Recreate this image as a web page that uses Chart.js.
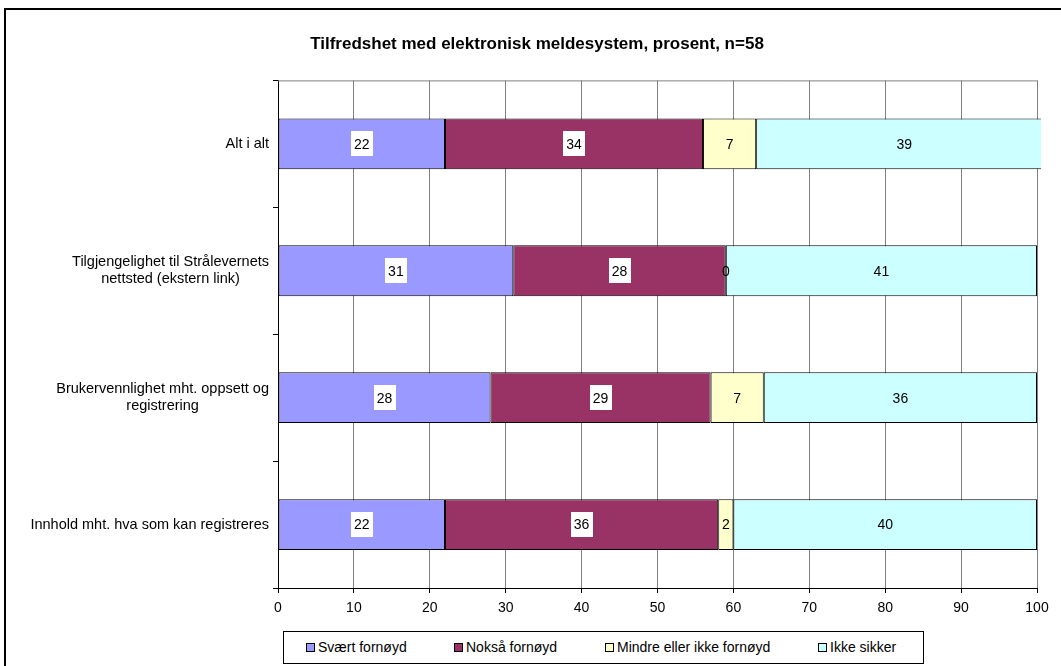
<!DOCTYPE html>
<html>
<head>
<meta charset="utf-8">
<script src="https://cdn.jsdelivr.net/npm/chart.js@4"></script>
<style>
  html, body { margin: 0; padding: 0; background: #fff; overflow: hidden; }
  body { width: 1061px; height: 666px; position: relative; font-family: 'Liberation Sans', Arial, sans-serif; }
  #frame { position: absolute; left: 4px; top: 8px; width: 1100px; height: 700px; border: 2px solid #000; }
  #wrap { position: absolute; left: 6px; top: 10px; width: 1062px; height: 656px; }
  #legend { position: absolute; left: 283px; top: 631px; width: 639px; height: 31px; border: 1px solid #000; background: #fff; }
  .item { position: absolute; top: 0; height: 31px; line-height: 31px; font-size: 14px; color: #000; white-space: nowrap; }
  .sw { display: inline-block; width: 7px; height: 7px; border: 1px solid #000; margin-right: 3px; vertical-align: 0px; }
</style>
</head>
<body>
<div id="frame"></div>
<div id="wrap"><canvas id="chart" width="1062" height="656"></canvas></div>
<div id="legend"></div>
<script>
// Data.
const categories = [
    'Alt i alt',
    ['Tilgjengelighet til Strålevernets', 'nettsted (ekstern link)'],
    ['Brukervennlighet mht. oppsett og', 'registrering'],
    'Innhold mht. hva som kan registreres'
];
const seriesNames = ['Svært fornøyd', 'Nokså fornøyd', 'Mindre eller ikke fornøyd', 'Ikke sikker'];
const svaertFornoyd = [22, 31, 28, 22];
const noksaFornoyd  = [34, 28, 29, 36];
const mindreFornoyd = [7, 0, 7, 2];
const ikkeSikker    = [39, 41, 36, 40];
const xTicks = [0, 10, 20, 30, 40, 50, 60, 70, 80, 90, 100];

const seriesColors = ['#9999FF', '#993366', '#FFFFCC', '#CCFFFF'];
const seriesValues = [svaertFornoyd, noksaFornoyd, mindreFornoyd, ikkeSikker];

const FONT = "'Liberation Sans', Arial, sans-serif";

// Category labels: block right-aligned, lines centred inside the block.
const categoryLabels = {
    id: 'categoryLabels',
    afterDraw(chart) {
        const ctx = chart.ctx;
        const y = chart.scales.y;
        const right = chart.chartArea.left - 9;
        ctx.save();
        ctx.font = '14.5px ' + FONT;
        ctx.fillStyle = '#000';
        ctx.textAlign = 'center';
        ctx.textBaseline = 'middle';
        categories.forEach((lab, i) => {
            const lines = Array.isArray(lab) ? lab : [lab];
            const w = Math.max(...lines.map(l => ctx.measureText(l).width));
            const cx = right - w / 2;
            const cy = y.getPixelForValue(i);
            const lh = 17;
            lines.forEach((l, k) => {
                ctx.fillText(l, cx, cy + (k - (lines.length - 1) / 2) * lh);
            });
        });
        ctx.restore();
    }
};

// Grey plot-area frame (top and right).
const plotFrame = {
    id: 'plotFrame',
    beforeDatasetsDraw(chart) {
        const a = chart.chartArea;
        const ctx = chart.ctx;
        ctx.save();
        ctx.strokeStyle = '#808080';
        ctx.lineWidth = 1;
        ctx.beginPath();
        ctx.moveTo(a.left, a.top + 0.5);
        ctx.lineTo(a.right + 0.5, a.top + 0.5);
        ctx.lineTo(a.right + 0.5, a.bottom);
        ctx.stroke();
        ctx.restore();
    }
};

// Value labels, white boxes on the two darker series.
const valueLabels = {
    id: 'valueLabels',
    afterDatasetsDraw(chart) {
        const ctx = chart.ctx;
        ctx.save();
        ctx.font = '14px ' + FONT;
        ctx.textAlign = 'center';
        ctx.textBaseline = 'middle';
        chart.data.datasets.forEach((ds, di) => {
            chart.getDatasetMeta(di).data.forEach((bar, i) => {
                const txt = String(ds.data[i]);
                const cx = (bar.x + bar.base) / 2;
                const cy = bar.y;
                if (di < 2) {
                    const w = ctx.measureText(txt).width + 6;
                    ctx.fillStyle = '#fff';
                    ctx.fillRect(Math.round(cx - w / 2), Math.round(cy - 12.5), Math.round(w), 25);
                }
                ctx.fillStyle = '#000';
                ctx.fillText(txt, cx, cy + 1);
            });
        });
        ctx.restore();
    }
};

const ctx = document.getElementById('chart');

new Chart(ctx, {
    type: 'bar',
    data: {
        labels: categories.map(c => Array.isArray(c) ? c.join(' ') : c),
        datasets: seriesNames.map((name, i) => ({
            label: name,
            data: seriesValues[i],
            backgroundColor: seriesColors[i],
            borderColor: '#000',
            borderWidth: 1,
            borderSkipped: false,
            categoryPercentage: 1,
            barPercentage: 0.4,
            clip: { left: 2, top: 2, right: 4, bottom: 2 }
        }))
    },
    options: {
        indexAxis: 'y',
        responsive: false,
        animation: false,
        layout: { padding: { left: 0, right: 0, top: 0, bottom: 48 } },
        plugins: {
            legend: { display: false },
            tooltip: { enabled: false },
            title: {
                display: true,
                text: 'Tilfredshet med elektronisk meldesystem, prosent, n=58',
                color: '#000',
                font: { family: FONT, size: 17, weight: 'bold' },
                padding: { top: 24, bottom: 26 }
            }
        },
        scales: {
            x: {
                stacked: true,
                min: 0,
                max: 100,
                afterBuildTicks(scale) {
                    scale.ticks = xTicks.map(v => ({ value: v }));
                },
                afterFit(scale) {
                    scale.height = 30;
                    scale.paddingRight = 31;
                },
                border: { display: true, color: '#000', width: 1 },
                grid: { color: '#808080', lineWidth: 1, drawTicks: true, tickLength: 5, tickColor: '#000' },
                ticks: { color: '#000', font: { family: FONT, size: 14 }, padding: 7, maxRotation: 0 }
            },
            y: {
                stacked: true,
                afterFit(scale) { scale.width = 272; },
                border: { display: true, color: '#000', width: 1 },
                grid: { offset: true, drawOnChartArea: false, drawTicks: true, tickLength: 5, color: '#000' },
                ticks: { display: false }
            }
        }
    },
    plugins: [plotFrame, valueLabels, categoryLabels]
});

// Legend as boxed row below the axis.
const legendX = [22, 170, 321, 534];
const legend = document.getElementById('legend');
seriesNames.forEach((name, i) => {
    const item = document.createElement('div');
    item.className = 'item';
    item.style.left = legendX[i] + 'px';
    const sw = document.createElement('span');
    sw.className = 'sw';
    sw.style.background = seriesColors[i];
    item.appendChild(sw);
    item.appendChild(document.createTextNode(name));
    legend.appendChild(item);
});
</script>
</body>
</html>
